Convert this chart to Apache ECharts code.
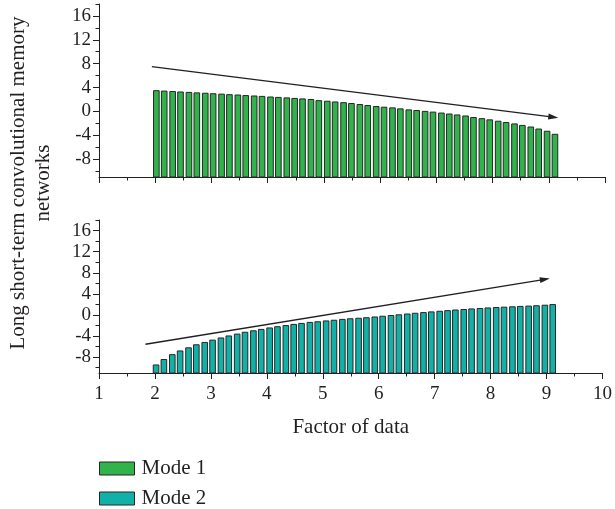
<!DOCTYPE html>
<html>
<head>
<meta charset="utf-8">
<script src="https://cdn.jsdelivr.net/npm/echarts@6/dist/echarts.min.js"></script>
<style>
html, body { margin: 0; padding: 0; background: #fff; }
#main { width: 615px; height: 509px; }
</style>
</head>
<body>
<div id="main"></div>
<script>
// x position of every bar (factor of data)
var factors = [2.02, 2.16, 2.31, 2.45, 2.60, 2.74, 2.89, 3.03, 3.18, 3.32,
               3.47, 3.61, 3.76, 3.90, 4.05, 4.19, 4.34, 4.48, 4.62, 4.77,
               4.91, 5.06, 5.20, 5.35, 5.49, 5.64, 5.78, 5.93, 6.07, 6.22,
               6.36, 6.51, 6.65, 6.80, 6.94, 7.09, 7.23, 7.37, 7.52, 7.66,
               7.81, 7.95, 8.10, 8.24, 8.39, 8.53, 8.68, 8.82, 8.97, 9.11];
// Mode 1 (top panel)
var mode1 = [3.47, 3.40, 3.33, 3.25, 3.18, 3.10, 3.04, 2.96, 2.89, 2.80,
             2.74, 2.65, 2.58, 2.51, 2.41, 2.34, 2.26, 2.17, 2.09, 1.99,
             1.80, 1.70, 1.58, 1.46, 1.32, 1.15, 0.98, 0.81, 0.70, 0.59,
             0.42, 0.25, 0.14, 0.00, -0.12, -0.28, -0.44, -0.60, -0.77, -1.03,
             -1.22, -1.42, -1.65, -1.87, -2.10, -2.35, -2.62, -2.96, -3.33, -3.84];
// Mode 2 (bottom panel)
var mode2 = [-9.48, -8.44, -7.52, -6.82, -6.22, -5.65, -5.21, -4.77, -4.36, -3.98,
             -3.63, -3.28, -3.00, -2.74, -2.46, -2.23, -2.01, -1.79, -1.60, -1.41,
             -1.29, -1.13, -1.00, -0.84, -0.72, -0.62, -0.52, -0.38, -0.24, -0.10,
             0.03, 0.18, 0.32, 0.45, 0.58, 0.70, 0.82, 0.94, 1.04, 1.14,
             1.23, 1.33, 1.41, 1.48, 1.55, 1.62, 1.68, 1.75, 1.85, 1.97];
// trend arrows [start, end]
var arrow1 = [[1.94, 7.5], [9.08, -0.95]];
var arrow2 = [[1.83, -5.55], [8.97, 6.75]];
// tick values
var yMajor = [-8, -4, 0, 4, 8, 12, 16];
var yMinor = [-10, -6, -2, 2, 6, 10, 14, 18];

var Y_MIN = -11, Y_MAX = 18;
var BAR_W = 0.1;
var FONT = 'Liberation Serif';
var INK = '#231f20';

var chart = echarts.init(document.getElementById('main'));

function barItem(params, api) {
    var top = api.coord([api.value(0), api.value(1)]);
    var base = api.coord([api.value(0), Y_MIN]);
    var w = api.size([BAR_W, 0])[0];
    return {
        type: 'rect',
        shape: { x: top[0] - w / 2, y: top[1], width: w, height: base[1] - top[1] },
        style: api.style({ stroke: '#262626', lineWidth: 1 })
    };
}

function xAxis(idx, showLabel) {
    return {
        type: 'value', gridIndex: idx, min: 1, max: 10, interval: 1,
        axisLine: { onZero: false, lineStyle: { color: INK, width: 1 } },
        axisTick: { length: 6, lineStyle: { color: INK } },
        minorTick: { show: true, splitNumber: 2, length: 3.5, lineStyle: { color: INK } },
        splitLine: { show: false },
        axisLabel: { show: showLabel, margin: 12, fontFamily: FONT, fontSize: 19, color: INK },
        name: showLabel ? 'Factor of data' : '',
        nameLocation: 'middle', nameGap: 44,
        nameTextStyle: { fontFamily: FONT, fontSize: 21, color: INK }
    };
}

function yAxes(idx) {
    return [{
        type: 'value', gridIndex: idx, min: Y_MIN, max: Y_MAX,
        axisLine: { show: true, onZero: false, lineStyle: { color: INK, width: 1 } },
        axisTick: { show: true, length: 6, customValues: yMajor, lineStyle: { color: INK } },
        axisLabel: { customValues: yMajor, margin: 8, fontFamily: FONT, fontSize: 19, color: INK },
        splitLine: { show: false }
    }, {
        type: 'value', gridIndex: idx, min: Y_MIN, max: Y_MAX, position: 'left',
        axisLine: { show: false, onZero: false },
        axisTick: { show: true, length: 3.5, customValues: yMinor, lineStyle: { color: INK } },
        axisLabel: { show: false },
        splitLine: { show: false }
    }];
}

function arrowLine(idx, pts) {
    return {
        type: 'line', xAxisIndex: idx, yAxisIndex: idx * 2, data: [], silent: true,
        markLine: {
            silent: true, animation: false,
            symbol: ['none', 'path://M0 0L3 10L-3 10Z'],
            symbolSize: 10, symbolKeepAspect: true,
            label: { show: false },
            lineStyle: { color: INK, width: 1.3, type: 'solid' },
            data: [[{ coord: pts[0] }, { coord: pts[1] }]]
        }
    };
}

function legendItem(name, top) {
    return {
        left: 99, top: top, padding: 0,
        itemWidth: 35, itemHeight: 13, icon: 'rect',
        itemStyle: { borderColor: '#262626', borderWidth: 1 },
        textStyle: { fontFamily: FONT, fontSize: 21, color: INK, padding: [0, 0, 0, 2] },
        data: [name]
    };
}

var option = {
    animation: false,
    backgroundColor: '#fff',
    grid: [
        { left: 99, right: 10, top: 4, height: 173 },
        { left: 99, right: 10, top: 220, height: 153 }
    ],
    xAxis: [xAxis(0, false), xAxis(1, true)],
    yAxis: yAxes(0).concat(yAxes(1)),
    legend: [legendItem('Mode 1', 458), legendItem('Mode 2', 488)],
    graphic: [{
        type: 'text', x: 31, y: 183, rotation: Math.PI / 2,
        style: {
            text: 'Long short-term convolutional memory\nnetworks',
            fontFamily: FONT, fontSize: 21, lineHeight: 25, fill: INK,
            align: 'center', verticalAlign: 'middle'
        }
    }],
    series: [{
        name: 'Mode 1', type: 'custom', xAxisIndex: 0, yAxisIndex: 0,
        renderItem: barItem, encode: { x: 0, y: 1 },
        itemStyle: { color: '#2fb34a' },
        data: factors.map(function (f, i) { return [f, mode1[i]]; })
    }, {
        name: 'Mode 2', type: 'custom', xAxisIndex: 1, yAxisIndex: 2,
        renderItem: barItem, encode: { x: 0, y: 1 },
        itemStyle: { color: '#12b1a7' },
        data: factors.map(function (f, i) { return [f, mode2[i]]; })
    },
    arrowLine(0, arrow1),
    arrowLine(1, arrow2)]
};

chart.setOption(option);
</script>
</body>
</html>
